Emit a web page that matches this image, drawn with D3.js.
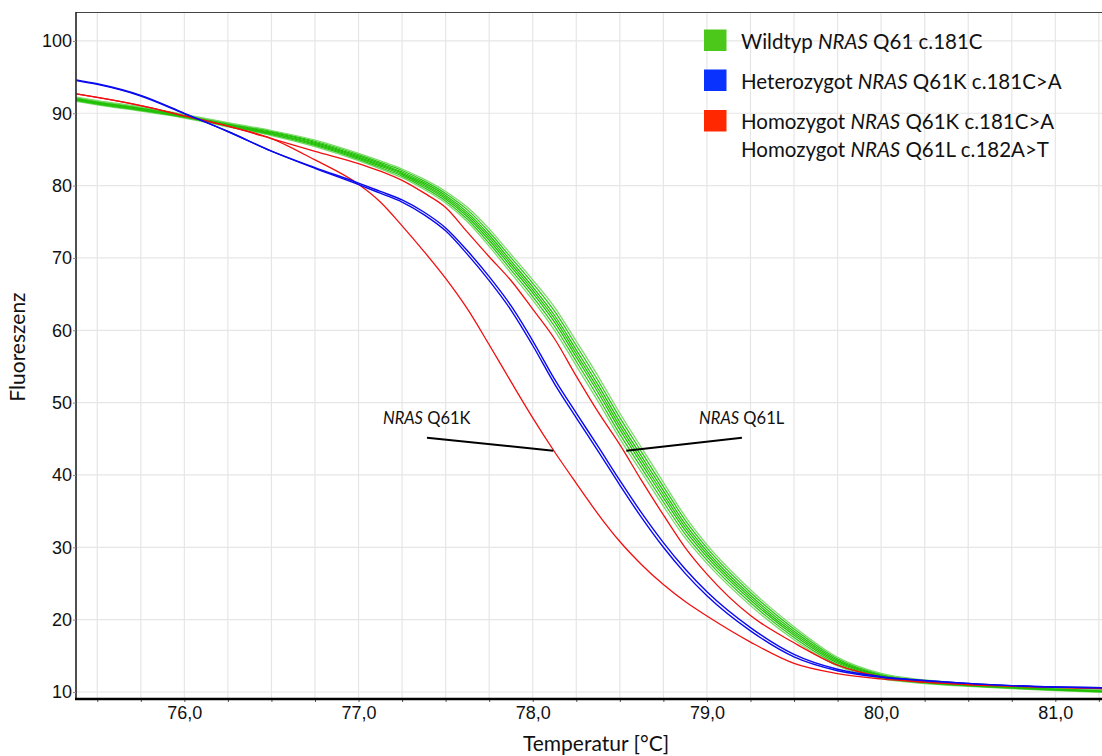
<!DOCTYPE html>
<html>
<head>
<meta charset="utf-8">
<script src="https://cdn.jsdelivr.net/npm/d3@7"></script>
<style>
  html, body { margin: 0; padding: 0; background: #fff; }
  svg { display: block; }
</style>
</head>
<body>
<svg id="chart" width="1102" height="756"></svg>
<script>
// Melting temperatures (°C) at which each fluorescence run is sampled
const temps = [75.38, 75.5, 75.75, 76.0, 76.25, 76.5, 76.75, 77.0, 77.125, 77.25, 77.375, 77.5, 77.625, 77.75, 77.875, 78.0, 78.125, 78.25, 78.375, 78.5, 78.625, 78.75, 78.875, 79.0, 79.25, 79.5, 79.75, 80.0, 80.25, 80.5, 80.75, 81.0, 81.27];

// Wildtyp NRAS Q61 c.181C – replicate runs
const wt1 = [91.64, 91.15, 90.30, 89.34, 88.12, 86.92, 85.39, 83.45, 82.31, 81.10, 79.50, 77.60, 75.00, 71.61, 67.90, 64.18, 60.00, 55.09, 50.17, 45.03, 40.35, 35.68, 31.29, 27.77, 21.94, 17.22, 13.59, 11.86, 11.16, 10.77, 10.46, 10.20, 9.94];
const wt2 = [91.75, 91.26, 90.41, 89.43, 88.23, 87.04, 85.55, 83.63, 82.50, 81.31, 79.75, 77.88, 75.35, 72.03, 68.36, 64.67, 60.56, 55.69, 50.78, 45.64, 40.95, 36.26, 31.82, 28.23, 22.33, 17.54, 13.80, 11.98, 11.25, 10.84, 10.53, 10.27, 10.01];
const wt3 = [91.85, 91.36, 90.51, 89.52, 88.33, 87.17, 85.71, 83.80, 82.70, 81.52, 79.99, 78.16, 75.70, 72.45, 68.81, 65.16, 61.12, 56.28, 51.40, 46.26, 41.54, 36.84, 32.34, 28.68, 22.71, 17.85, 14.01, 12.11, 11.34, 10.91, 10.60, 10.34, 10.08];
const wt4 = [91.94, 91.45, 90.60, 89.59, 88.42, 87.27, 85.84, 83.95, 82.86, 81.70, 80.20, 78.40, 76.00, 72.81, 69.20, 65.58, 61.60, 56.79, 51.92, 46.78, 42.05, 37.33, 32.79, 29.07, 23.04, 18.12, 14.19, 12.21, 11.41, 10.97, 10.66, 10.40, 10.14];
const wt5 = [92.03, 91.54, 90.69, 89.67, 88.51, 87.38, 85.98, 84.10, 83.03, 81.88, 80.41, 78.64, 76.30, 73.17, 69.59, 66.00, 62.08, 57.30, 52.45, 47.31, 42.56, 37.83, 33.24, 29.46, 23.37, 18.39, 14.37, 12.32, 11.49, 11.03, 10.72, 10.46, 10.20];
const wt6 = [92.14, 91.65, 90.80, 89.75, 88.62, 87.50, 86.13, 84.28, 83.22, 82.09, 80.66, 78.92, 76.65, 73.59, 70.05, 66.49, 62.64, 57.90, 53.06, 47.92, 43.16, 38.40, 33.77, 29.92, 23.76, 18.71, 14.58, 12.44, 11.57, 11.10, 10.79, 10.53, 10.27];
const wt7 = [92.24, 91.75, 90.90, 89.84, 88.72, 87.62, 86.29, 84.45, 83.41, 82.30, 80.90, 79.20, 77.00, 74.01, 70.50, 66.98, 63.20, 58.49, 53.67, 48.53, 43.75, 38.98, 34.29, 30.37, 24.14, 19.02, 14.79, 12.56, 11.66, 11.17, 10.86, 10.60, 10.34];

// Heterozygot NRAS Q61K c.181C>A – two runs
const het1 = [94.52, 93.99, 92.39, 89.95, 87.48, 84.77, 82.39, 80.15, 78.95, 77.73, 76.00, 73.75, 70.49, 66.86, 62.80, 57.90, 52.60, 47.90, 43.30, 38.60, 34.10, 30.00, 26.40, 23.30, 18.45, 14.85, 12.94, 12.03, 11.55, 11.19, 10.88, 10.69, 10.59];
const het2 = [94.62, 94.08, 92.47, 90.00, 87.48, 84.77, 82.49, 80.35, 79.20, 78.03, 76.35, 74.15, 70.99, 67.41, 63.40, 58.55, 53.25, 48.55, 43.95, 39.25, 34.75, 30.65, 27.00, 23.85, 18.90, 15.20, 13.14, 12.13, 11.60, 11.19, 10.88, 10.69, 10.59];

// Homozygot runs: Q61K c.181C>A and Q61L c.182A>T
const homK = [92.68, 92.21, 91.07, 89.65, 88.21, 86.51, 83.55, 80.18, 77.74, 74.44, 70.92, 67.17, 62.95, 58.00, 52.90, 47.90, 43.21, 38.85, 34.60, 30.80, 27.60, 24.85, 22.50, 20.50, 16.90, 13.95, 12.55, 11.80, 11.35, 11.00, 10.82, 10.64, 10.51];
const homL = [92.68, 92.21, 91.07, 89.65, 88.21, 86.51, 84.74, 83.05, 82.00, 80.72, 78.99, 76.97, 73.57, 70.17, 66.88, 62.92, 58.83, 53.66, 48.71, 44.19, 39.21, 34.47, 29.96, 26.29, 20.56, 16.80, 13.70, 12.10, 11.37, 11.06, 10.79, 10.64, 10.48];

// Axis ticks
const xTicks = [76, 77, 78, 79, 80, 81];
const xMinorTicks = [75.5, 75.75, 76, 76.25, 76.5, 76.75, 77, 77.25, 77.5, 77.75, 78, 78.25, 78.5, 78.75, 79, 79.25, 79.5, 79.75, 80, 80.25, 80.5, 80.75, 81, 81.25];
const yTicks = [10, 20, 30, 40, 50, 60, 70, 80, 90, 100];

// Legend entries
const legendItems = [
  { color: "#4cc81a", lines: [["Wildtyp ", "NRAS", " Q61 c.181C"]] },
  { color: "#0a32ff", lines: [["Heterozygot ", "NRAS", " Q61K c.181C>A"]] },
  { color: "#ff2800", lines: [["Homozygot ", "NRAS", " Q61K c.181C>A"], ["Homozygot ", "NRAS", " Q61L c.182A>T"]] }
];

// Callouts pointing at the homozygous curves
const callouts = [
  { label: ["NRAS", " Q61K"], textAt: [77.14, 47.05], from: [77.393, 45.16], to: [78.118, 43.36] },
  { label: ["NRAS", " Q61L"], textAt: [78.955, 47.05], from: [79.201, 45.16], to: [78.537, 43.36] }
];

const W = 1102, H = 756;
const plot = { left: 76, top: 12, right: 1102, bottom: 699 };

const x = d3.scaleLinear().domain([75.378, 81.268]).range([plot.left, plot.right]);
const y = d3.scaleLinear().domain([9.03, 104.0]).range([plot.bottom, plot.top]);

const svg = d3.select("#chart");
svg.append("rect").attr("width", W).attr("height", H).attr("fill", "#fff");

svg.append("defs").append("clipPath").attr("id", "plotClip")
  .append("rect")
  .attr("x", plot.left).attr("y", plot.top)
  .attr("width", plot.right - plot.left).attr("height", plot.bottom - plot.top);

// grid
const grid = svg.append("g").attr("stroke", "#e6e6e6").attr("stroke-width", 1.2);
grid.selectAll("line.v").data(xMinorTicks).join("line")
  .attr("x1", d => x(d)).attr("x2", d => x(d))
  .attr("y1", plot.top).attr("y2", plot.bottom);
grid.selectAll("line.h").data(yTicks).join("line")
  .attr("x1", plot.left).attr("x2", plot.right)
  .attr("y1", d => y(d)).attr("y2", d => y(d));

// curves
const line = d3.line()
  .x((d, i) => x(temps[i]))
  .y(d => y(d))
  .curve(d3.curveMonotoneX);

const curves = svg.append("g").attr("clip-path", "url(#plotClip)").attr("fill", "none");

const wildtypRuns = [wt1, wt2, wt3, wt4, wt5, wt6, wt7];
const wildtypColors = ["#79da66", "#2cc416", "#1ebe00", "#22c205", "#1ebe00", "#2cc416", "#79da66"];
curves.selectAll("path.wt").data(wildtypRuns).join("path")
  .attr("class", "wt")
  .attr("d", line)
  .attr("stroke", (d, i) => wildtypColors[i])
  .attr("stroke-width", 1.25);

curves.selectAll("path.hom").data([homK, homL]).join("path")
  .attr("class", "hom")
  .attr("d", line)
  .attr("stroke", "#f01010")
  .attr("stroke-width", 1.3);

curves.selectAll("path.het").data([het1, het2]).join("path")
  .attr("class", "het")
  .attr("d", line)
  .attr("stroke", "#0a0af0")
  .attr("stroke-width", 1.4);

// frame
svg.append("line").attr("x1", plot.left).attr("x2", plot.right)
  .attr("y1", plot.top + 0.5).attr("y2", plot.top + 0.5)
  .attr("stroke", "#444").attr("stroke-width", 1);
svg.append("line").attr("x1", plot.left).attr("x2", plot.left)
  .attr("y1", plot.top).attr("y2", plot.bottom)
  .attr("stroke", "#222").attr("stroke-width", 1.6);

// axes
const fmt = d => d3.format(".1f")(d).replace(".", ",");
const xAxis = d3.axisBottom(x)
  .tickValues(xMinorTicks)
  .tickSize(3).tickPadding(4)
  .tickFormat(d => xTicks.includes(d) ? fmt(d) : "");
const gx = svg.append("g").attr("transform", `translate(0,${plot.bottom})`).call(xAxis);
gx.select(".domain").remove();
gx.selectAll(".tick line").attr("stroke", "#555");
gx.selectAll(".tick text").attr("font-family", "'Liberation Sans', Arial, sans-serif")
  .attr("font-size", 18).attr("fill", "#111");

svg.append("line").attr("x1", plot.left - 1).attr("x2", plot.right)
  .attr("y1", plot.bottom).attr("y2", plot.bottom)
  .attr("stroke", "#000").attr("stroke-width", 2.4);

const yAxis = d3.axisLeft(y).tickValues(yTicks).tickSize(3).tickPadding(1).tickFormat(d3.format("d"));
const gy = svg.append("g").attr("transform", `translate(${plot.left},0)`).call(yAxis);
gy.select(".domain").remove();
gy.selectAll(".tick line").attr("stroke", "#888");
gy.selectAll(".tick text").attr("font-family", "'Liberation Sans', Arial, sans-serif")
  .attr("font-size", 18).attr("fill", "#111");

// axis titles
svg.append("text")
  .attr("x", 596).attr("y", 751)
  .attr("text-anchor", "middle")
  .attr("font-family", "Lato, sans-serif").attr("font-size", 21).attr("fill", "#111")
  .text("Temperatur [°C]");
svg.append("text")
  .attr("transform", "translate(25,347) rotate(-90)")
  .attr("text-anchor", "middle")
  .attr("font-family", "Lato, sans-serif").attr("font-size", 21).attr("fill", "#111")
  .text("Fluoreszenz");

// legend
const legend = svg.append("g").attr("font-family", "Lato, sans-serif").attr("font-size", 20.5).attr("fill", "#111");
const legendRowY = [29.5, 69.5, 110];
const legendLineGap = 27.7;
legendItems.forEach((item, i) => {
  legend.append("rect")
    .attr("x", 704).attr("y", legendRowY[i])
    .attr("width", 22.5).attr("height", 21.5)
    .attr("fill", item.color);
  item.lines.forEach((parts, j) => {
    const t = legend.append("text")
      .attr("x", 741).attr("y", legendRowY[i] + 19 + j * legendLineGap);
    parts.forEach((p, k) => {
      t.append("tspan").attr("font-style", k === 1 ? "italic" : "normal").text(p);
    });
  });
});

// callouts
const ann = svg.append("g");
callouts.forEach(c => {
  ann.append("line")
    .attr("x1", x(c.from[0])).attr("y1", y(c.from[1]))
    .attr("x2", x(c.to[0])).attr("y2", y(c.to[1]))
    .attr("stroke", "#000").attr("stroke-width", 2);
  const t = ann.append("text")
    .attr("x", x(c.textAt[0])).attr("y", y(c.textAt[1]))
    .attr("font-family", "Lato, sans-serif").attr("font-size", 16.5).attr("fill", "#111");
  c.label.forEach((p, k) => {
    t.append("tspan").attr("font-style", k === 0 ? "italic" : "normal").text(p);
  });
});
</script>
</body>
</html>
